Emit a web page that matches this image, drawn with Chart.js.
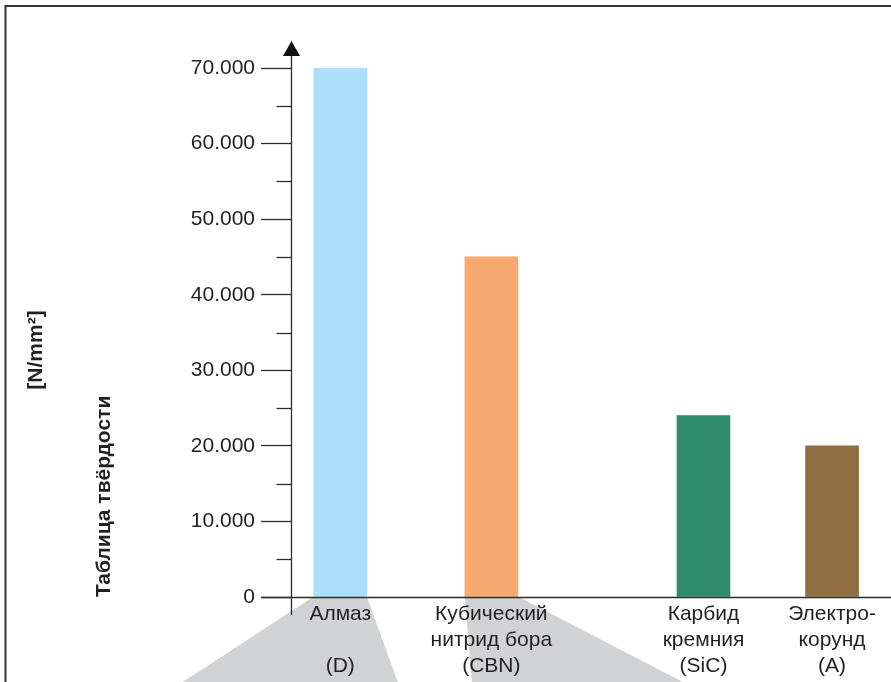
<!DOCTYPE html>
<html><head><meta charset="utf-8">
<script src="https://cdn.jsdelivr.net/npm/chart.js@4.4.0/dist/chart.umd.min.js"></script>
<style>html,body{margin:0;padding:0;background:#fff}canvas{display:block}</style>
</head><body>
<canvas id="c" width="891" height="682"></canvas>
<script>
// ---- data ----
const categories = [
  ['Алмаз', '', '(D)'],
  ['Кубический', 'нитрид бора', '(CBN)'],
  ['Карбид', 'кремния', '(SiC)'],
  ['Электро-', 'корунд', '(A)']
];
const hardness = [70000, 45000, 24000, 20000];
const categoryPositions = [2.3, 9.35, 19.25, 25.25];
const yTickValues = [0, 10000, 20000, 30000, 40000, 50000, 60000, 70000];
const yTickLabels = ['0', '10.000', '20.000', '30.000', '40.000', '50.000', '60.000', '70.000'];
const yMinorTicks = [5000, 15000, 25000, 35000, 45000, 55000, 65000];
const yTitle = 'Таблица твёрдости';
const yUnit = '[N/mm²]';

// ---- styles ----
const barColors = ['#a9dff9', '#f8a96f', '#2e8b6b', '#8f6f41'];
const TEXT = '#231f20';
const AXIS = '#2b2b2b';
const FONT = "'Liberation Sans', Arial, Helvetica, sans-serif";

const decor = {
  id: 'decor',
  beforeDraw(chart) {
    const ctx = chart.ctx;
    ctx.save();
    ctx.fillStyle = '#fff';
    ctx.fillRect(0, 0, chart.width, chart.height);
    // grey fans below first two bars
    const meta = chart.getDatasetMeta(0);
    const fans = [[0, -131, 31], [1, 7, 165]];
    ctx.fillStyle = '#d1d2d4';
    fans.forEach(([i, dl, dr]) => {
      const el = meta.data[i];
      const l = el.x - el.width / 2, r = el.x + el.width / 2;
      ctx.beginPath();
      ctx.moveTo(l, el.base);
      ctx.lineTo(r, el.base);
      ctx.lineTo(r + dr, chart.height);
      ctx.lineTo(l + dl, chart.height);
      ctx.closePath();
      ctx.fill();
    });
    ctx.restore();
  },
  afterDraw(chart) {
    const ctx = chart.ctx;
    const y = chart.scales.y;
    const ax = y.right + 0.5;
    const y0 = y.getPixelForValue(0);
    const yTop = y.getPixelForValue(yTickValues[yTickValues.length - 1]);
    ctx.save();
    ctx.strokeStyle = AXIS;
    ctx.lineWidth = 1.3;
    // minor ticks
    yMinorTicks.forEach(v => {
      const py = Math.round(y.getPixelForValue(v)) + 0.5;
      ctx.beginPath(); ctx.moveTo(ax - 15, py); ctx.lineTo(ax, py); ctx.stroke();
    });
    // y axis line
    ctx.beginPath(); ctx.moveTo(ax, yTop - 13); ctx.lineTo(ax, y0 + 18); ctx.stroke();
    // x axis line
    ctx.beginPath(); ctx.moveTo(ax - 30, Math.round(y0) + 0.5); ctx.lineTo(chart.width, Math.round(y0) + 0.5); ctx.stroke();
    // arrow
    ctx.fillStyle = '#111';
    ctx.beginPath();
    ctx.moveTo(ax, yTop - 27);
    ctx.lineTo(ax + 8.5, yTop - 12);
    ctx.lineTo(ax - 8.5, yTop - 12);
    ctx.closePath(); ctx.fill();
    // frame
    ctx.strokeStyle = '#333';
    ctx.lineWidth = 2;
    ctx.beginPath(); ctx.moveTo(5.5, chart.height); ctx.lineTo(5.5, 6); ctx.lineTo(chart.width, 6); ctx.stroke();
    // unit label
    ctx.translate(36, 350);
    ctx.rotate(-Math.PI / 2);
    ctx.fillStyle = TEXT;
    ctx.font = "bold 21px " + FONT;
    ctx.textAlign = 'center';
    ctx.textBaseline = 'middle';
    ctx.fillText(yUnit, 0, 0);
    ctx.restore();
  }
};

new Chart(document.getElementById('c'), {
  type: 'bar',
  data: {
    datasets: [{
      data: categoryPositions.map((x, i) => ({ x: x, y: hardness[i] })),
      backgroundColor: barColors,
      borderWidth: 0,
      barThickness: 53
    }]
  },
  plugins: [decor],
  options: {
    responsive: false,
    animation: false,
    devicePixelRatio: 1,
    layout: { padding: { top: 68, right: 0, bottom: 0, left: 0 } },
    plugins: { legend: { display: false }, tooltip: { enabled: false } },
    scales: {
      x: {
        type: 'linear', min: 0, max: 28, offset: false,
        grid: { display: false }, border: { display: false },
        afterBuildTicks: s => { s.ticks = categoryPositions.map(v => ({ value: v })); },
        afterFit: s => { s.height = 85; },
        ticks: {
          autoSkip: false, maxRotation: 0, minRotation: 0, padding: -4,
          color: TEXT, font: { family: FONT, size: 21, lineHeight: '26px' },
          callback: (v, i) => categories[i]
        }
      },
      y: {
        min: 0, max: 70000,
        afterFit: s => { s.width = 291; },
        border: { display: false },
        grid: {
          drawOnChartArea: false, drawTicks: true, tickLength: 30, tickWidth: 1.3,
          tickColor: c => (c.tick && yTickValues.includes(c.tick.value)) ? AXIS : 'rgba(0,0,0,0)'
        },
        ticks: {
          stepSize: 5000, padding: 6, color: TEXT,
          font: { family: FONT, size: 21 },
          callback: v => { const i = yTickValues.indexOf(v); return i >= 0 ? yTickLabels[i] : ''; }
        },
        title: {
          display: true, text: yTitle, align: 'start', color: TEXT,
          font: { family: FONT, size: 21, weight: 'bold' },
          padding: { top: 92, bottom: 0 }
        }
      }
    }
  }
});
</script>
</body></html>
